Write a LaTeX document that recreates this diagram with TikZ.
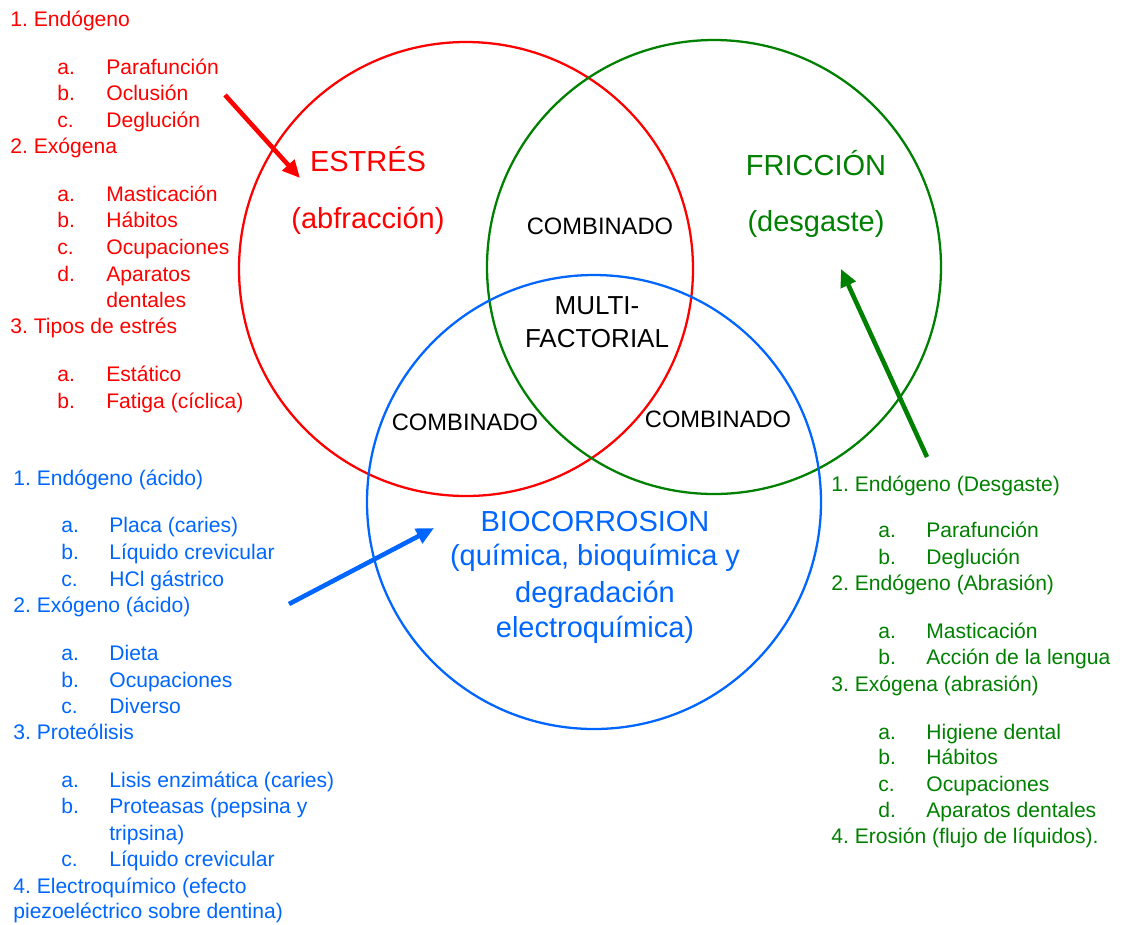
\documentclass[tikz,border=0pt]{standalone}
\usepackage{fontspec}
\setmainfont{Liberation Sans}
\usetikzlibrary{arrows.meta}

\definecolor{estresred}{RGB}{255,0,0}
\definecolor{friccgreen}{RGB}{0,128,0}
\definecolor{bioblue}{RGB}{0,102,255}

\tikzset{
  listtxt/.style = {anchor=base west, inner sep=0pt, font=\fontsize{12}{14}\selectfont\frenchspacing},
  bigtxt/.style = {anchor=base, inner sep=0pt, font=\fontsize{16.5}{20}\selectfont},
  zonetxt/.style = {anchor=base, inner sep=0pt, font=\fontsize{13.5}{16}\selectfont},
  multitxt/.style = {anchor=base, inner sep=0pt, font=\fontsize{14.8}{18}\selectfont},
  ring/.style = {line width=1.3pt},
  pointer/.style = {line width=2.6pt, -{Triangle[length=10pt,width=9pt]}}
}

\begin{document}
\begin{tikzpicture}[x=0.02cm, y=-0.02cm]
    \useasboundingbox (0,0) rectangle (1124,924);

    % circles
    \draw[ring, estresred] (466,269) circle (227);
    \draw[ring, friccgreen] (714,267) circle (227);
    \draw[ring, bioblue] (594,502) circle (227);

    % titles
    \node (estres) [bigtxt, estresred] at (368,171) {ESTRÉS};
    \node (abfrac) [bigtxt, estresred] at (368,228) {(abfracción)};
    \node (friccion) [bigtxt, friccgreen] at (816,175) {FRICCIÓN};
    \node (desgaste) [bigtxt, friccgreen] at (816,231) {(desgaste)};
    \node (bio_1) [bigtxt, bioblue] at (595,531) {BIOCORROSION};
    \node (bio_2) [bigtxt, bioblue] at (595,565) {(química, bioquímica y};
    \node (bio_3) [bigtxt, bioblue] at (595,602) {degradación};
    \node (bio_4) [bigtxt, bioblue] at (595,637) {electroquímica)};

    \node (comb_top) [zonetxt] at (600,234) {COMBINADO};
    \node (comb_left) [zonetxt] at (465,430) {COMBINADO};
    \node (comb_right) [zonetxt] at (718,427) {COMBINADO};
    \node (multi_1) [multitxt] at (597,314) {MULTI-};
    \node (multi_2) [multitxt] at (597,347) {FACTORIAL};

    % red list
    \foreach \y/\t [count=\i] in {26/1. Endógeno, 153/2. Exógena, 333/3. Tipos de estrés}
        \node (red_num\i) [listtxt, estresred] at (10,\y) {\t};
    \foreach \l/\y/\t [count=\i] in {a./74/Parafunción, b./100/Oclusión, c./127/Deglución,
        a./201/Masticación, b./227/Hábitos, c./254/Ocupaciones, d./281/Aparatos,
        /307/dentales, a./381/Estático, b./408/Fatiga (cíclica)}
    {
        \node (red_mark\i) [listtxt, estresred] at (57,\y) {\l};
        \node (red_item\i) [listtxt, estresred] at (106,\y) {\t};
    }

    % blue list
    \foreach \y/\t [count=\i] in {485/1. Endógeno (ácido), 612/2. Exógeno (ácido),
        739/3. Proteólisis, 893/4. Electroquímico (efecto, 918/piezoeléctrico sobre dentina)}
        \node (blue_num\i) [listtxt, bioblue] at (13,\y) {\t};
    \foreach \l/\y/\t [count=\i] in {a./532/Placa (caries), b./559/Líquido crevicular,
        c./586/HCl gástrico, a./660/Dieta, b./687/Ocupaciones, c./713/Diverso,
        a./787/Lisis enzimática (caries), b./813/Proteasas (pepsina y, /840/tripsina),
        c./866/Líquido crevicular}
    {
        \node (blue_mark\i) [listtxt, bioblue] at (61,\y) {\l};
        \node (blue_item\i) [listtxt, bioblue] at (109,\y) {\t};
    }

    % green list
    \foreach \y/\t [count=\i] in {491/1. Endógeno (Desgaste), 590/2. Endógeno (Abrasión),
        691/3. Exógena (abrasión), 843/4. Erosión (flujo de líquidos).}
        \node (green_num\i) [listtxt, friccgreen] at (831,\y) {\t};
    \foreach \l/\y/\t [count=\i] in {a./537/Parafunción, b./564/Deglución,
        a./638/Masticación, b./664/Acción de la lengua, a./739/Higiene dental,
        b./764/Hábitos, c./791/Ocupaciones, d./817/Aparatos dentales}
    {
        \node (green_mark\i) [listtxt, friccgreen] at (878,\y) {\l};
        \node (green_item\i) [listtxt, friccgreen] at (926,\y) {\t};
    }

    % arrows
    \coordinate (red_from) at (225,95);
    \coordinate (red_to) at (300,178);
    \coordinate (blue_from) at (289,604);
    \coordinate (blue_to) at (434,528);
    \coordinate (green_from) at (927,457);
    \coordinate (green_to) at (841,269);
    \path (red_from) edge[pointer, estresred] (red_to);
    \path (blue_from) edge[pointer, bioblue] (blue_to);
    \path (green_from) edge[pointer, friccgreen] (green_to);
\end{tikzpicture}
\end{document}
